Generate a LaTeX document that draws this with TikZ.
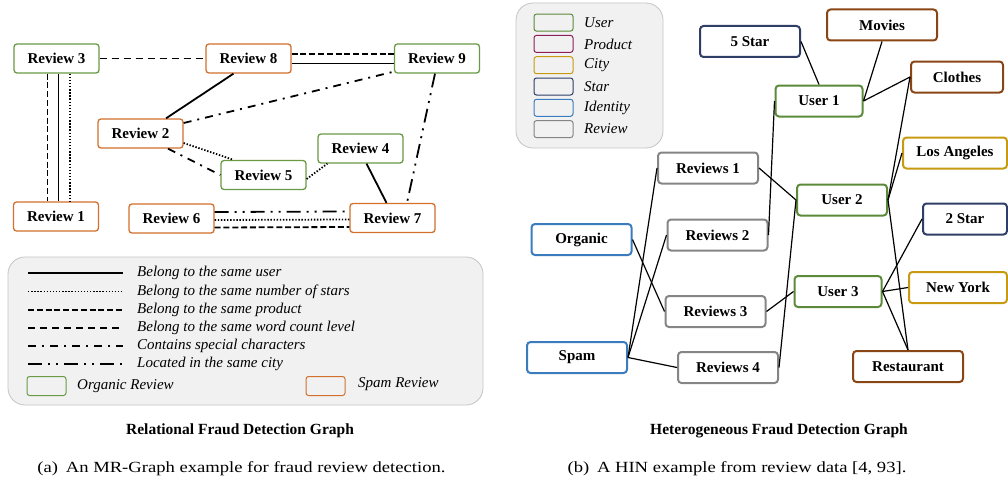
\documentclass[tikz,border=0pt]{standalone}
\usepackage{fontspec}
\setmainfont{Liberation Serif}
\newfontfamily\capfont[FakeStretch=1.2]{Liberation Serif}
\usepackage{tikz}

\definecolor{orggreen}{HTML}{6A9A45}
\definecolor{spamorange}{HTML}{D2702C}
\definecolor{usergreen}{HTML}{5A8A3A}
\definecolor{prodbrown}{HTML}{8A4515}
\definecolor{prodpurple}{HTML}{8A1F5C}
\definecolor{citygold}{HTML}{C79A12}
\definecolor{starnavy}{HTML}{2F3E66}
\definecolor{identblue}{HTML}{3A7CBE}
\definecolor{revgray}{HTML}{858585}
\definecolor{legfill}{HTML}{F1F1F1}
\definecolor{legdraw}{HTML}{C4C4C4}

\tikzset{
  nodefont/.style={font=\fontsize{15}{17}\selectfont\bfseries},
  revbase/.style={nodefont, rounded corners=3pt, fill=white, line width=1.3pt,
    minimum width=85pt, minimum height=29pt, inner sep=0pt},
  organic/.style={revbase, draw=orggreen},
  spamrev/.style={revbase, draw=spamorange},
  hinbase/.style={nodefont, rounded corners=3.5pt, fill=white, line width=2pt,
    minimum width=100pt, minimum height=31pt, inner sep=0pt},
  userbox/.style={hinbase, draw=usergreen, minimum width=87pt},
  prodbox/.style={hinbase, draw=prodbrown},
  citybox/.style={hinbase, draw=citygold},
  starbox/.style={hinbase, draw=starnavy},
  identbox/.style={hinbase, draw=identblue},
  reviewbox/.style={hinbase, draw=revgray},
  keybox/.style={rounded corners=2.5pt, line width=1pt, minimum width=39pt,
    minimum height=17pt, inner sep=0pt},
  legtext/.style={anchor=west, inner sep=0pt, font=\fontsize{15}{17}\selectfont\itshape},
  sameuser/.style={line width=1.8pt},
  samestars/.style={line width=1.8pt, dash pattern=on 1.4pt off 1.7pt},
  sameprod/.style={line width=1.8pt, dash pattern=on 6pt off 2.8pt},
  samewords/.style={line width=1.8pt, dash pattern=on 7pt off 5pt},
  specialch/.style={line width=1.8pt, dash pattern=on 8pt off 6pt on 2pt off 6pt},
  samecity/.style={line width=1.8pt, dash pattern=on 14pt off 6pt on 2pt off 6pt on 2pt off 6pt},
  hinedge/.style={line width=1.2pt},
}

\begin{document}
\begin{tikzpicture}[x=1pt,y=-1pt]
  \useasboundingbox (0,0) rectangle (1008,487);

  % ---- (a) relational graph ----
  \node[organic] (r3) at (56.5,58.5) {Review 3};
  \node[spamrev] (r8) at (248.5,58.5) {Review 8};
  \node[organic] (r9) at (437,58.5) {Review 9};
  \node[spamrev] (r2) at (140.5,133.5) {Review 2};
  \node[organic] (r4) at (360.5,148.5) {Review 4};
  \node[organic] (r5) at (263.5,175) {Review 5};
  \node[spamrev] (r1) at (56,216.5) {Review 1};
  \node[spamrev] (r6) at (171.5,218.5) {Review 6};
  \node[spamrev] (r7) at (392.5,218) {Review 7};

  \draw[sameprod] ([xshift=-9pt]r3.south) -- ([xshift=-8.5pt]r1.north);
  \draw[sameuser] ([xshift=2pt]r3.south) -- ([xshift=2.5pt]r1.north);
  \draw[samestars] ([xshift=13.5pt]r3.south) -- ([xshift=14pt]r1.north);
  \draw[samewords] (r3.east) -- (r8.west);
  \draw[sameprod] ([yshift=4.5pt]r8.east) -- ([yshift=4.5pt]r9.west);
  \draw[sameuser] ([yshift=-5pt]r8.east) -- ([yshift=-5pt]r9.west);
  \draw[sameuser] ([xshift=-15pt]r8.south) -- ([xshift=25.5pt]r2.north);
  \draw[specialch] ([yshift=10.5pt]r2.east) -- ([yshift=2pt]r9.south west);
  \draw[samestars] ([yshift=-9.5pt]r2.east) -- ([xshift=-30pt]r5.north);
  \draw[specialch] ([xshift=27.5pt]r2.south) -- (r5.west);
  \draw[samestars] ([yshift=-4pt]r5.east) -- ([xshift=10pt]r4.south west);
  \draw[sameuser] ([xshift=6pt]r4.south) -- ([xshift=-6pt]r7.north);
  \draw[samecity] ([xshift=-2pt]r9.south) -- ([xshift=14.5pt]r7.north);
  \draw[samecity] ([yshift=6.5pt]r6.east) -- ([yshift=6.5pt]r7.west);
  \draw[samestars] ([yshift=-1.5pt]r6.east) -- ([yshift=-1.5pt]r7.west);
  \draw[sameprod] ([yshift=-9pt]r6.east) -- ([yshift=-9pt]r7.west);

  % legend (a)
  \draw[legdraw, fill=legfill, rounded corners=17pt, line width=0.8pt] (8,257) rectangle (483,405);
  \foreach \st/\txt [count=\i] in {sameuser/Belong to the same user,
      samestars/Belong to the same number of stars,
      sameprod/Belong to the same product,
      samewords/Belong to the same word count level,
      specialch/Contains special characters,
      samecity/Located in the same city} {
    \coordinate (la\i) at (28,255.1+18.2*\i);
    \coordinate (lb\i) at (123,255.1+18.2*\i);
    \draw[\st] (la\i) -- (lb\i);
    \node[legtext] (lt\i) at (137,255.1+18.2*\i) {\txt};
  }
  \node[keybox, draw=orggreen, fill=legfill, minimum height=19pt] (korg) at (46.5,386) {};
  \node[legtext] (korgt) at (77,386.5) {Organic Review};
  \node[keybox, draw=spamorange, fill=legfill, minimum height=19pt] (kspam) at (325.5,386) {};
  \node[legtext] (kspamt) at (358,384) {Spam Review};

  \node[font=\fontsize{15.5}{17}\selectfont\bfseries] (capa) at (240,431) {Relational Fraud Detection Graph};
  \node[font=\capfont\fontsize{15.5}{17}\selectfont] (suba) at (241.5,469) {(a)\enspace An MR-Graph example for fraud review detection.};

  % ---- (b) heterogeneous graph ----
  \draw[legdraw, fill=legfill, rounded corners=17pt, line width=0.8pt] (516,3) rectangle (663,148);
  \foreach \col/\txt [count=\i] in {usergreen/User, prodpurple/Product, citygold/City,
      starnavy/Star, identblue/Identity, revgray/Review} {
    \node[keybox, draw=\col] (key\i) at (553.5,1.3+21.3*\i) {};
    \node[legtext] (keyt\i) at (584,1.3+21.3*\i) {\txt};
  }

  \node[starbox] (s5) at (750,41.5) {5 Star};
  \node[prodbox, minimum width=110pt] (movies) at (882,25) {Movies};
  \node[prodbox, minimum width=92pt] (clothes) at (957,77) {Clothes};
  \node[userbox] (u1) at (819,101) {User 1};
  \node[citybox, minimum width=104pt] (la) at (955,153) {Los Angeles};
  \node[reviewbox] (rv1) at (708,168) {Reviews 1};
  \node[userbox, minimum width=90pt] (u2) at (842,200) {User 2};
  \node[starbox, minimum width=84pt] (s2) at (965,219) {2 Star};
  \node[identbox] (org) at (581.5,239.5) {Organic};
  \node[reviewbox] (rv2) at (717.5,235) {Reviews 2};
  \node[userbox] (u3) at (838,291.5) {User 3};
  \node[citybox, minimum width=98pt] (ny) at (958,287.5) {New York};
  \node[reviewbox] (rv3) at (715.5,311.5) {Reviews 3};
  \node[identbox] (spam) at (577,357.5) {Spam};
  \node[reviewbox] (rv4) at (728,367.5) {Reviews 4};
  \node[prodbox, minimum width=110pt] (rest) at (908,366.5) {Restaurant};

  \draw[hinedge] (s5.east) -- (u1.north);
  \draw[hinedge] (movies.south) -- (u1.east);
  \draw[hinedge] (clothes.west) -- (u1.east);
  \draw[hinedge] (u1.west) -- (rv2.east);
  \draw[hinedge] (rv1.east) -- (u2.west);
  \draw[hinedge] (clothes.west) -- (u2.east);
  \draw[hinedge] (la.west) -- (u2.east);
  \draw[hinedge] (u2.east) -- (rest.north);
  \draw[hinedge] (u2.west) -- (rv4.east);
  \draw[hinedge] (u3.east) -- (s2.west);
  \draw[hinedge] (u3.east) -- (ny.west);
  \draw[hinedge] (u3.east) -- (rest.north);
  \draw[hinedge] (rv3.east) -- (u3.west);
  \draw[hinedge] (org.east) -- (rv3.west);
  \draw[hinedge] (spam.east) -- (rv1.west);
  \draw[hinedge] (spam.east) -- (rv2.west);
  \draw[hinedge] (spam.east) -- (rv4.west);

  \node[font=\fontsize{15.5}{17}\selectfont\bfseries] (capb) at (779,431) {Heterogeneous Fraud Detection Graph};
  \node[font=\capfont\fontsize{15.5}{17}\selectfont] (subb) at (737,469) {(b)\enspace A HIN example from review data [4, 93].};
\end{tikzpicture}
\end{document}
